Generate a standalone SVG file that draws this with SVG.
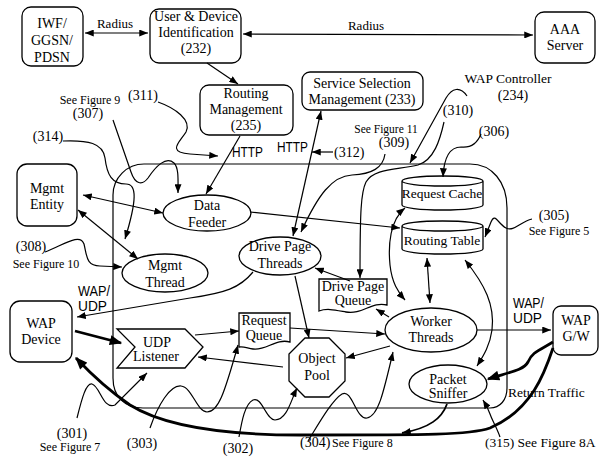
<svg xmlns="http://www.w3.org/2000/svg" width="600" height="460" viewBox="0 0 600 460">
<style>
.c{fill:none;stroke:#000;stroke-width:1.2}
.e{marker-end:url(#ah)}
.b{marker-start:url(#ah);marker-end:url(#ah)}
.k{stroke-width:2.8;marker-end:url(#ak)}
.n{fill:#fff;stroke:#000;stroke-width:1.3}
text{font-family:"Liberation Serif","Times New Roman",serif;font-size:14px;fill:#000}
.m{text-anchor:middle}
.s{font-size:12px}
.sans{font-family:"Liberation Sans",Arial,sans-serif;font-size:14px}
</style>
<defs>
<marker id="ah" viewBox="0 0 10 8" refX="10" refY="4" markerWidth="9" markerHeight="7" markerUnits="userSpaceOnUse" orient="auto-start-reverse"><path d="M0,0L10,4L0,8z"/></marker>
<marker id="ak" viewBox="0 0 10 8" refX="9" refY="4" markerWidth="13" markerHeight="10" markerUnits="userSpaceOnUse" orient="auto"><path d="M0,0L10,4L0,8z"/></marker>
</defs>
<rect width="600" height="460" fill="#fff"/>

<g id="wap-controller">
<path class="c" d="M113,195 A31,31 0 0 1 144,164 L470,164 C492,164 507,182 507,208 L507,388 C507,400 500,408 490,408 L143,408 C125,408 113,397 113,378 Z"/>
</g>

<g id="iwf"><rect class="n" x="22" y="7" width="61" height="59" rx="9"/>
<text class="m" x="52" y="28">IWF/</text><text class="m" x="52" y="45">GGSN/</text><text class="m" x="52" y="62">PDSN</text></g>
<g id="user"><rect class="n" x="150" y="9" width="91" height="54" rx="9"/>
<text class="m" x="196" y="21">User &amp; Device</text><text class="m" x="196" y="37">Identification</text><text class="m" x="196" y="53">(232)</text></g>
<g id="aaa"><rect class="n" x="535" y="12" width="60" height="51" rx="9"/>
<text class="m" x="565" y="34">AAA</text><text class="m" x="565" y="50">Server</text></g>
<g id="routing-mgmt"><rect class="n" x="200" y="85" width="93" height="50" rx="9"/>
<text class="m" x="246" y="98">Routing</text><text class="m" x="246" y="114">Management</text><text class="m" x="246" y="130">(235)</text></g>
<g id="ssm"><rect class="n" x="302" y="72" width="121" height="38" rx="8"/>
<text class="m" x="362" y="88">Service Selection</text><text class="m" x="362" y="104">Management (233)</text></g>
<g id="mgmt-entity"><rect class="n" x="17" y="164" width="60" height="62" rx="10"/>
<text class="m" x="47" y="193">Mgmt</text><text class="m" x="47" y="209">Entity</text></g>
<g id="wap-device"><rect class="n" x="10" y="301" width="62" height="61" rx="10"/>
<text class="m" x="41" y="328">WAP</text><text class="m" x="41" y="344">Device</text></g>
<g id="wap-gw"><rect class="n" x="553" y="306" width="45" height="49" rx="8"/>
<text class="m" x="576" y="325">WAP</text><text class="m" x="576" y="341">G/W</text></g>
<g id="data-feeder"><ellipse class="n" cx="207" cy="213" rx="44" ry="18"/>
<text class="m" x="207" y="210">Data</text><text class="m" x="207" y="227">Feeder</text></g>
<g id="mgmt-thread"><ellipse class="n" cx="165" cy="273" rx="43" ry="19"/>
<text class="m" x="165" y="270">Mgmt</text><text class="m" x="165" y="287">Thread</text></g>
<g id="drive-page-threads"><ellipse class="n" cx="280" cy="256" rx="41" ry="19"/>
<text class="m" x="280" y="251">Drive Page</text><text class="m" x="280" y="268">Threads</text></g>
<g id="worker-threads"><ellipse class="n" cx="431" cy="330" rx="46" ry="22"/>
<text class="m" x="431" y="326">Worker</text><text class="m" x="431" y="342">Threads</text></g>
<g id="packet-sniffer"><ellipse class="n" cx="448" cy="384" rx="39" ry="19"/>
<text class="m" x="448" y="384">Packet</text><text class="m" x="448" y="398">Sniffer</text></g>
<g id="request-cache"><path class="n" d="M402,181 L402,205 A40.5,5 0 0 0 483,205 L483,181 A40.5,5 0 0 0 402,181 A40.5,5 0 0 0 483,181"/>
<text class="m" x="442" y="198" style="font-size:13.5px">Request Cache</text></g>
<g id="routing-table"><path class="n" d="M402,226 L402,249 A40.5,5 0 0 0 483,249 L483,226 A40.5,5 0 0 0 402,226 A40.5,5 0 0 0 483,226"/>
<text class="m" x="442" y="245" style="font-size:13.5px">Routing Table</text></g>
<g id="drive-page-queue"><path class="n" d="M319,279 H387 V305 C372,301 362,315 346,312 C335,310 327,308 319,311 Z"/>
<text class="m" x="353" y="291">Drive Page</text><text class="m" x="353" y="305">Queue</text></g>
<g id="request-queue"><path class="n" d="M239,313 H290 V342 C276,338 266,351 253,349 C247,348 243,346 239,347 Z"/>
<text class="m" x="264" y="325">Request</text><text class="m" x="264" y="340">Queue</text></g>
<g id="object-pool"><polygon class="n" points="305,338 329,338 345,354 345,381 329,397 305,397 289,381 289,354"/>
<text class="m" x="317" y="363">Object</text><text class="m" x="317" y="380">Pool</text></g>
<g id="udp-listener"><polygon class="n" points="117,329 185,329 203,347 185,368 117,368 135,347"/>
<text class="m" x="157" y="347">UDP</text><text class="m" x="156" y="361">Listener</text></g>

<g id="connectors">
<path class="c b" d="M85,33 L148,33"/>
<path class="c b" d="M243,34 L533,35"/>
<path class="c e" d="M207,63 L238,84"/>
<path class="c e" d="M240,136 L206,194"/>
<path class="c b" d="M321,111 L293,236"/>
<path class="c e" d="M333,152 L312,152"/>
<path class="c e" d="M158,102 C175,108 192,120 186,132 C180,142 166,152 190,154 L218,156"/>
<path class="c e" d="M467,96 C460,86 452,88 446,98 L410,163"/>
<path class="c e" d="M444,122 C440,140 434,160 418,165 C398,170 374,168 366,182 C361,192 360,210 360,278"/>
<path class="c e" d="M385,154 C383,168 372,174 352,175 C332,176 318,195 301,232"/>
<path class="c e" d="M481,134 C477,144 470,148 461,147 C450,147 444,156 443,177"/>
<path class="c e" d="M532,219 C520,222 514,232 506,228 C498,224 495,212 491,222 L485,237"/>
<path class="c b" d="M83,195 L163,213"/>
<path class="c b" d="M78,210 L138,259"/>
<path class="c e" d="M63,141 C88,140 103,143 105,158 C107,175 112,184 126,184 C137,184 137,200 125,239"/>
<path class="c e" d="M113,120 L131,172 C135,184 142,186 148,178 C156,166 166,156 174,163 C179,168 178,180 178,193"/>
<path class="c e" d="M45,252 C62,246 80,232 84,244 C87,256 86,266 100,266 L122,267"/>
<path class="c e" d="M250,212 L400,228"/>
<path class="c e" d="M253,272 C240,288 225,293 190,298 L77,317"/>
<path class="c k" d="M75,331 L121,343"/>
<path class="c e" d="M195,335 L239,331"/>
<path class="c e" d="M283,367 L198,357"/>
<path class="c e" d="M290,328 L385,334"/>
<path class="c e" d="M295,276 L309,338"/>
<path class="c e" d="M390,346 L346,358"/>
<path class="c e" d="M389,317 L376,309"/>
<path class="c e" d="M350,281 L315,268"/>
<path class="c b" d="M405,208 C390,220 388,245 390,265 C392,283 398,292 405,300"/>
<path class="c b" d="M427,258 L430,303"/>
<path class="c b" d="M465,260 C485,285 495,305 492,330 C490,345 484,355 477,366"/>
<path class="c e" d="M477,330 L551,330"/>
<path class="c k" d="M553,342 C540,350 532,352 528,362 C524,370 510,372 488,379"/>
<path class="c k" d="M553,348 C545,372 532,410 490,428 C470,435 430,435 300,435 C240,435 170,430 130,405 C108,390 92,375 76,358"/>
<path class="c e" style="stroke-width:1.8" d="M447,404 C442,418 430,428 402,433"/>
<path class="c e" d="M500,437 C497,428 492,420 490,414 C488,408 486,405 483,400"/>
<path class="c e" d="M308,441 C318,425 332,400 342,394 C352,388 356,420 367,418 C378,416 383,395 393,352"/>
<path class="c e" d="M239,437 C242,420 245,404 253,400 C262,396 266,420 275,420 C287,420 291,400 297,388"/>
<path class="c e" d="M150,428 C158,405 170,385 181,386 C192,387 197,412 207,412 C218,412 224,395 238,345"/>
<path class="c e" d="M77,418 C82,398 86,383 92,384 C100,386 103,410 115,405 L147,373"/>
</g>

<g id="labels">
<text class="m" x="115" y="28" style="font-size:13px">Radius</text>
<text class="m" x="366" y="30" style="font-size:13px">Radius</text>
<text class="m" x="508" y="83" style="font-size:13.5px">WAP Controller</text>
<text class="m" x="513" y="100">(234)</text>
<text class="m" x="458" y="115">(310)</text>
<text class="m" x="494" y="136">(306)</text>
<text class="m s" x="386" y="133" style="font-size:11.5px">See Figure 11</text>
<text class="m" x="394" y="147">(309)</text>
<text x="334" y="157">(312)</text>
<text class="sans" x="277" y="152" textLength="31" lengthAdjust="spacingAndGlyphs">HTTP</text>
<text class="sans" x="232" y="157" textLength="31" lengthAdjust="spacingAndGlyphs">HTTP</text>
<text class="m" x="143" y="100">(311)</text>
<text class="m s" x="90" y="104">See Figure 9</text>
<text class="m" x="88" y="118">(307)</text>
<text class="m" x="48" y="141">(314)</text>
<text class="m" x="31" y="251">(308)</text>
<text class="m s" x="46" y="268">See Figure 10</text>
<text class="sans" x="78" y="296" textLength="32" lengthAdjust="spacingAndGlyphs">WAP/</text>
<text class="sans" x="78" y="311" textLength="29" lengthAdjust="spacingAndGlyphs">UDP</text>
<text class="sans" x="513" y="308" textLength="31" lengthAdjust="spacingAndGlyphs">WAP/</text>
<text class="sans" x="513" y="323" textLength="29" lengthAdjust="spacingAndGlyphs">UDP</text>
<text class="m" x="554" y="220">(305)</text>
<text class="m s" x="559" y="235">See Figure 5</text>
<text x="508" y="397" style="font-size:13.5px">Return Traffic</text>
<text class="m" x="72" y="438">(301)</text>
<text class="m s" x="70" y="451">See Figure 7</text>
<text class="m" x="142" y="448">(303)</text>
<text class="m" x="238" y="453">(302)</text>
<text x="300" y="447">(304)</text>
<text class="s" x="332" y="447">See Figure 8</text>
<text x="485" y="447" style="font-size:13.5px">(315) See Figure 8A</text>
</g>
</svg>
